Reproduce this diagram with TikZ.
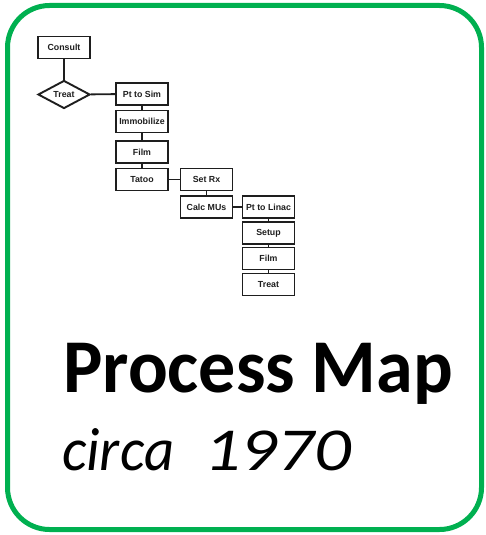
\documentclass[tikz,border=0pt]{standalone}
\usepackage{fontspec}
\setmainfont{Carlito}
\newfontfamily\boxfont{Liberation Sans}
\usetikzlibrary{shapes.geometric}
\definecolor{framegreen}{RGB}{0,176,80}
\definecolor{ink}{RGB}{30,30,30}
\tikzset{
  stepbox/.style={draw=ink, line width=1.9pt, fill=white, minimum width=52pt,
    minimum height=22pt, inner sep=0pt, font=\boxfont\bfseries\fontsize{8.8}{9}\selectfont, text=ink},
  decision/.style={stepbox, diamond, minimum width=52pt, minimum height=28pt},
  link/.style={draw=ink, line width=1.9pt},
}
\begin{document}
\begin{tikzpicture}[x=1pt, y=-1pt]
\useasboundingbox (0,0) rectangle (486,535);
% frame
\draw[framegreen, line width=5pt, rounded corners=42pt] (7.5,5.5) rectangle (481.5,529.5);

% flow steps
\node[stepbox] (consult) at (64,47.5) {Consult};
\node[decision] (treatq) at (64,94.5) {Treat};
\node[stepbox] (ptsim) at (142,94) {Pt to Sim};
\node[stepbox] (immob) at (142,121.5) {Immobilize};
\node[stepbox] (film1) at (142,152) {Film};
\node[stepbox] (tatoo) at (142,179.5) {Tatoo};
\node[stepbox] (setrx) at (206.5,179.5) {Set Rx};
\node[stepbox] (calc) at (206.5,207) {Calc MUs};
\node[stepbox] (ptlinac) at (268.5,207) {Pt to Linac};
\node[stepbox] (setup) at (268.5,233) {Setup};
\node[stepbox] (film2) at (268.5,258.5) {Film};
\node[stepbox] (treat) at (268.5,284.5) {Treat};

% connectors
\draw[link] (consult) -- (treatq);
\draw[link] (treatq) -- (ptsim);
\draw[link] (ptsim) -- (immob);
\draw[link] (immob) -- (film1);
\draw[link] (film1) -- (tatoo);
\draw[link] (tatoo) -- (setrx);
\draw[link] (setrx) -- (calc);
\draw[link] (calc) -- (ptlinac);
\draw[link] (ptlinac) -- (setup);
\draw[link] (setup) -- (film2);
\draw[link] (film2) -- (treat);

% titles
\node[anchor=base west, inner sep=0pt, xscale=0.975, font=\bfseries\fontsize{76}{80}\selectfont] (title) at (63,392) {Process Map};
\node[anchor=base west, inner sep=0pt, font=\itshape\fontsize{61}{64}\selectfont] (era) at (62,470)
  {\scalebox{0.96}[1]{circa}\hspace{30pt}\scalebox{1.19}[1]{1970}};
\end{tikzpicture}
\end{document}
